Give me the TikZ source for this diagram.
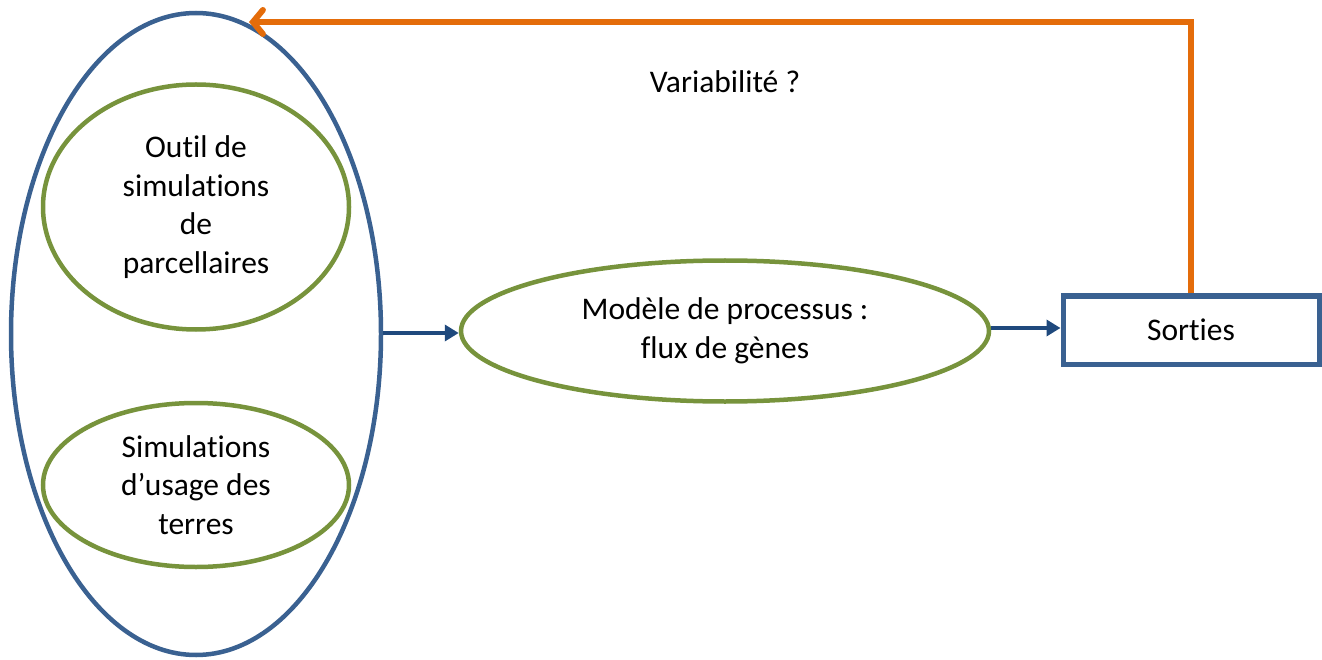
\documentclass[tikz,border=0pt]{standalone}
\usepackage{fontspec}
\setmainfont[Ligatures=NoCommon]{Carlito}
\usetikzlibrary{shapes.geometric,arrows.meta}
\definecolor{outerblue}{HTML}{3A6191}
\definecolor{arrowblue}{HTML}{1F497D}
\definecolor{olivegreen}{HTML}{77933C}
\definecolor{fborange}{HTML}{E46C0A}
\tikzset{
  txt/.style={font=\fontsize{31.5}{38.5}\selectfont, align=center, text=black},
  outerell/.style={ellipse, draw=outerblue, line width=4.5pt, inner sep=0pt},
  greenell/.style={ellipse, draw=olivegreen, line width=4.5pt, inner sep=0pt, txt},
  outbox/.style={rectangle, draw=outerblue, line width=5pt, inner sep=0pt, txt},
  flowarrow/.style={draw=arrowblue, line width=4pt, -{Triangle[length=14pt,width=16pt]}},
  feedback/.style={draw=fborange, line width=6pt, line join=miter, -{Straight Barb[length=10pt,width=24pt,line cap=round]}}
}
\begin{document}
\begin{tikzpicture}[x=1pt,y=-1pt]
\useasboundingbox (0,0) rectangle (1322,660);
\node[outerell, minimum width=370pt, minimum height=642pt] (outer) at (196,334) {};
\node[greenell, minimum width=306pt, minimum height=245pt] (tool) at (196,207) {Outil de\\simulations\\de\\parcellaires};
\node[greenell, minimum width=306pt, minimum height=164pt] (land) at (196,485) {Simulations\\d’usage des\\terres};
\node[greenell, minimum width=528pt, minimum height=141pt] (model) at (725,331) {Modèle de processus :\\flux de gènes};
\node[outbox, minimum width=256pt, minimum height=68pt] (sorties) at (1191,330) {Sorties};
\node[txt] (var) at (725,82) {Variabilité ?};
\coordinate (ftip) at (249,22);
\draw[flowarrow] (outer.east |- 0,333) -- (model.west |- 0,333);
\draw[flowarrow] (model.east |- 0,328) -- (sorties.west |- 0,328);
\draw[feedback] (sorties.north) |- (ftip);
\end{tikzpicture}
\end{document}
